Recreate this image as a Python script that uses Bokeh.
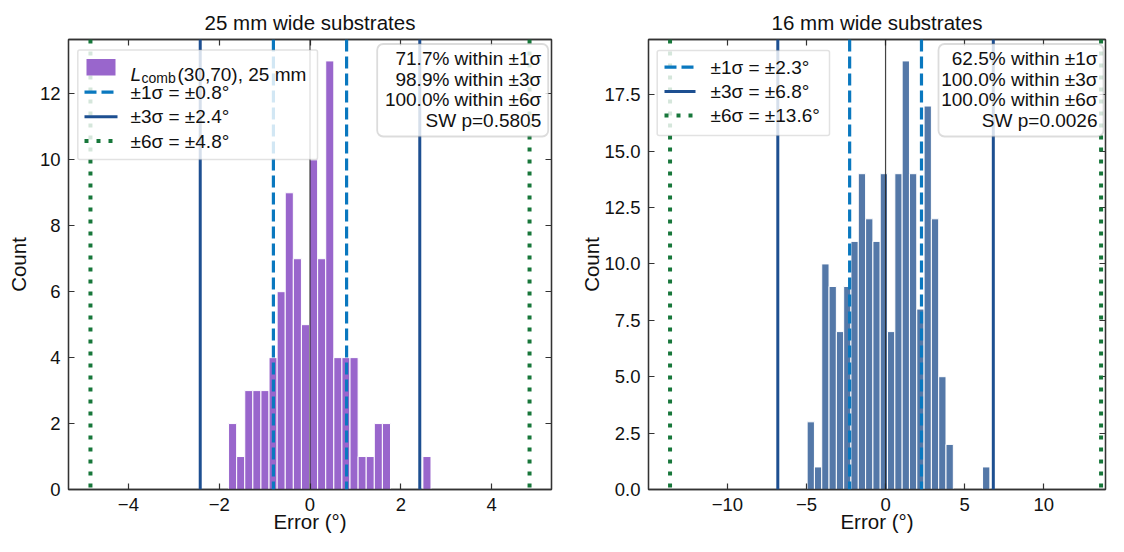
from bokeh.plotting import figure
from bokeh.models import (Range1d, FixedTicker, LinearAxis, Span, BoxAnnotation, Label,
                          Arrow, CustomJSTickFormatter)
from bokeh.layouts import row
from bokeh.embed import file_html
from bokeh.resources import INLINE
import numpy as np

# ---------------- data ----------------
left_title = "25 mm wide substrates"
left_counts = [2, 1, 3, 3, 3, 4, 6, 9, 7, 5, 10, 7, 13, 4, 4, 4, 1, 1, 2, 2, 0, 0, 0, 0, 1]
left_bin_lo, left_bin_hi = -1.794, 2.665
left_sigma = 0.806
left_stats = ["71.7% within \u00b11\u03c3", "98.9% within \u00b13\u03c3",
              "100.0% within \u00b16\u03c3", "SW p=0.5805"]
left_series = ("L", "comb", "(30,70), 25 mm")
left_xticks = [-4, -2, 0, 2, 4]
left_yticks = [0, 2, 4, 6, 8, 10, 12]

right_title = "16 mm wide substrates"
right_counts = [3, 1, 10, 9, 7, 9, 11, 14, 12, 11, 14, 7, 14, 19, 14, 8, 17, 12, 5, 2, 0, 0, 0, 0, 1]
right_bin_lo, right_bin_hi = -4.957, 6.592
right_sigma = 2.27
right_stats = ["62.5% within \u00b11\u03c3", "100.0% within \u00b13\u03c3",
               "100.0% within \u00b16\u03c3", "SW p=0.0026"]
right_xticks = [-10, -5, 0, 5, 10]
right_yticks = [0, 2.5, 5, 7.5, 10, 12.5, 15, 17.5]

sigma_mults = [1, 3, 6]
x_label = "Error (\u00b0)"
y_label = "Count"

# ---------------- styles / layout ----------------
FONT = "Liberation Sans"
FS_TICK = "18.5px"
FS_TEXT = "19px"
FS_BIG = "20.5px"
C_LEFT = "#9966cc"
C_RIGHT = "#5478a8"
C_1S = "#0a78bf"
C_3S = "#1d4f91"
C_6S = "#17773a"
FRAME = "#333333"
TXT = "#111111"
H = 536
TOP = 39          # frame top (page px)
FB = 489          # frame bottom (page px)
line_styles = {1: dict(line_color=C_1S, line_width=3.2, line_dash="12 5"),
               3: dict(line_color=C_3S, line_width=3.0, line_dash="solid"),
               6: dict(line_color=C_6S, line_width=4.0, line_dash="4 8")}

minus_fmt = CustomJSTickFormatter(code="return (tick < 0 ? '\\u2212' : '') + Math.abs(tick).toString();")
fixed1_fmt = CustomJSTickFormatter(code="return tick.toFixed(1);")


def make_panel(title, counts, lo, hi, sigma, color, xr, yr, xticks, yticks, yfmt,
               width, border_left, border_right, ylabel_standoff):
    p = figure(width=width, height=H, x_range=Range1d(*xr), y_range=Range1d(*yr),
               output_backend="svg", toolbar_location=None,
               min_border_left=border_left, min_border_right=border_right,
               min_border_top=TOP, min_border_bottom=H - FB,
               title=title)
    p.title.text_font = FONT
    p.title.text_font_size = FS_BIG
    p.title.text_font_style = "normal"
    p.title.align = "center"
    p.title.text_color = TXT
    p.title.standoff = 12
    p.grid.visible = False
    p.outline_line_color = FRAME
    p.outline_line_width = 1.3
    p.background_fill_color = "white"
    p.border_fill_color = "white"

    for ax, ticks, fmt in ((p.xaxis[0], xticks, minus_fmt), (p.yaxis[0], yticks, yfmt)):
        ax.ticker = FixedTicker(ticks=ticks)
        if fmt is not None:
            ax.formatter = fmt
        ax.major_tick_in = 6
        ax.major_tick_out = 0
        ax.minor_tick_line_color = None
        ax.major_tick_line_color = FRAME
        ax.major_tick_line_width = 1.2
        ax.axis_line_color = FRAME
        ax.axis_line_width = 1.3
        ax.major_label_text_font = FONT
        ax.major_label_text_font_size = FS_TICK
        ax.major_label_text_color = TXT
        ax.axis_label_text_font = FONT
        ax.axis_label_text_font_size = FS_BIG
        ax.axis_label_text_font_style = "normal"
        ax.axis_label_text_color = TXT
    p.xaxis[0].axis_label = x_label
    p.xaxis[0].major_label_standoff = 8
    p.xaxis[0].axis_label_standoff = -4
    p.yaxis[0].axis_label = y_label
    p.yaxis[0].major_label_standoff = 8
    p.yaxis[0].axis_label_standoff = ylabel_standoff

    # mirrored inward tick marks on top and right
    for loc, ticks in (("above", xticks), ("right", yticks)):
        ax = LinearAxis(ticker=FixedTicker(ticks=ticks), major_tick_in=6, major_tick_out=0,
                        minor_tick_line_color=None, major_tick_line_color=FRAME,
                        major_tick_line_width=1.2, axis_line_color=FRAME, axis_line_width=1.3,
                        major_label_text_color=None, major_label_text_font_size="1px",
                        major_label_standoff=0)
        p.add_layout(ax, loc)

    # histogram bars
    edges = np.linspace(lo, hi, len(counts) + 1)
    p.quad(left=edges[:-1], right=edges[1:], bottom=0, top=counts,
           fill_color=color, line_color="white", line_width=1.0)

    # reference lines
    p.add_layout(Span(location=0, dimension="height", line_color="#222222",
                      line_width=1.2, line_alpha=0.85))
    for m in sigma_mults:
        for s in (-1, 1):
            p.add_layout(Span(location=s * m * sigma, dimension="height", **line_styles[m]))
    return p


class Placer:
    """Places annotations given page-pixel positions, converted to frame screen units."""

    def __init__(self, p, frame_left):
        self.p = p
        self.fl = frame_left

    def box(self, x0, x1, y0, y1, radius, line_color, line_width, fill="white", alpha=0.82):
        self.p.add_layout(BoxAnnotation(left=x0 - self.fl, right=x1 - self.fl,
                                        bottom=FB - y1, top=FB - y0,
                                        left_units="screen", right_units="screen",
                                        bottom_units="screen", top_units="screen",
                                        fill_color=fill, fill_alpha=alpha,
                                        line_color=line_color, line_width=line_width,
                                        border_radius=radius))

    def text(self, x, y, text, align="left", size=FS_TEXT, style="normal", baseline="middle"):
        self.p.add_layout(Label(x=x - self.fl, y=FB - y, x_units="screen", y_units="screen",
                                text=text, text_font=FONT, text_font_size=size,
                                text_font_style=style, text_align=align,
                                text_baseline=baseline, text_color=TXT))

    def line(self, x0, x1, y, m):
        st = line_styles[m]
        self.p.add_layout(Arrow(end=None, x_start=x0 - self.fl, y_start=FB - y,
                                x_end=x1 - self.fl, y_end=FB - y,
                                start_units="screen", end_units="screen",
                                line_color=st["line_color"], line_width=st["line_width"],
                                line_dash=st["line_dash"]))

    def stats(self, x0, x1, text_right, lines):
        self.box(x0, x1, 43.5, 136, 6, "#8a8a8a", 1.8)
        for i, t in enumerate(lines):
            self.text(text_right, 58 + i * 20.6, t, align="right")


def sigma_label(m, sigma):
    return f"\u00b1{m}\u03c3 = \u00b1{m * sigma:.1f}\u00b0"


# ---------------- left panel ----------------
p1 = make_panel(left_title, left_counts, left_bin_lo, left_bin_hi, left_sigma, C_LEFT,
                (-1.1 * 6 * left_sigma, 1.1 * 6 * left_sigma), (0, 13.65),
                left_xticks, left_yticks, None, 560, 68, 9, 7)
a = Placer(p1, 68)
a.box(77.3, 317, 49.5, 159, 2, "#a0a0a0", 1.5)
a.box(86, 115, 58.5, 75, 0, None, 0, fill=C_LEFT, alpha=1.0)
a.text(130, 73.7, left_series[0], style="italic", baseline="alphabetic")
a.text(141, 77.5, left_series[1], size="14px", baseline="alphabetic")
a.text(177, 73.7, left_series[2], baseline="alphabetic")
for i, m in enumerate(sigma_mults):
    y = 91.7 + i * 24.45
    a.line(84, 117, y, m)
    a.text(130, y, sigma_label(m, left_sigma))
a.stats(376.7, 547.7, 540.7, left_stats)

# ---------------- right panel ----------------
p2 = make_panel(right_title, right_counts, right_bin_lo, right_bin_hi, right_sigma, C_RIGHT,
                (-1.1 * 6 * right_sigma, 13.9), (0, 19.95),
                right_xticks, right_yticks, fixed1_fmt, 548, 88, 3, -2)
b = Placer(p2, 648)
b.box(656.7, 829, 50, 135, 2, "#a0a0a0", 1.5)
for i, m in enumerate(sigma_mults):
    y = 66.7 + i * 24.2
    b.line(664, 695, y, m)
    b.text(710, y, sigma_label(m, right_sigma))
b.stats(938, 1103, 1097, right_stats)

layout = row(p1, p2)
open("out.html", "w").write(file_html(layout, INLINE))
